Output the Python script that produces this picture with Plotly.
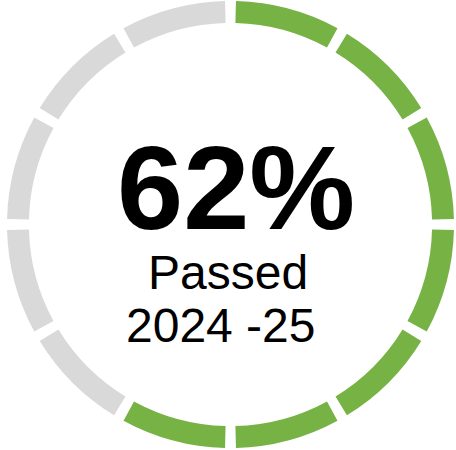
import plotly.graph_objects as go

# ---- data ----
percent_passed = 62
segment_count = 12
main_label = f"{percent_passed}%"
status_label = "Passed"
period_label = "2024 -25"

# ---- style ----
GREEN = "#77B244"
GRAY = "#D9D9D9"
GAP_DEG = 2.8

filled = round(percent_passed / 100 * segment_count)
seg_deg = 360 / segment_count

values, colors = [], []
for i in range(segment_count):
    values.append(seg_deg - GAP_DEG)
    colors.append(GREEN if i < filled else GRAY)
    values.append(GAP_DEG)
    colors.append("rgba(255,255,255,0)")

W, H = 456, 450
cx, cy, R = 230.5, 224.5, 223.5

fig = go.Figure(go.Pie(
    values=values,
    sort=False,
    direction="clockwise",
    rotation=GAP_DEG / 2,
    hole=0.902,
    marker=dict(colors=colors, line=dict(width=0)),
    textinfo="none",
    hoverinfo="skip",
    showlegend=False,
    domain=dict(x=[(cx - R) / W, (cx + R) / W], y=[1 - (cy + R) / H, 1 - (cy - R) / H]),
))

font = "Liberation Sans, Arial, Helvetica, sans-serif"
fig.add_annotation(x=236 / W, y=1 - 187 / H, xref="paper", yref="paper", text=f"<b>{main_label}</b>",
                   showarrow=False, xanchor="center", yanchor="middle",
                   font=dict(family=font, size=119, color="#000000"))
fig.add_annotation(x=228 / W, y=1 - 272 / H, xref="paper", yref="paper", text=status_label,
                   showarrow=False, xanchor="center", yanchor="middle",
                   font=dict(family=font, size=48, color="#000000"))
fig.add_annotation(x=221 / W, y=1 - 325 / H, xref="paper", yref="paper", text=period_label,
                   showarrow=False, xanchor="center", yanchor="middle",
                   font=dict(family=font, size=48, color="#000000"))

fig.update_layout(width=W, height=H, margin=dict(l=0, r=0, t=0, b=0),
                  paper_bgcolor="white", plot_bgcolor="white")
fig.write_html("out.html", config={"displayModeBar": False},
               post_script="document.body.style.margin='0';")
